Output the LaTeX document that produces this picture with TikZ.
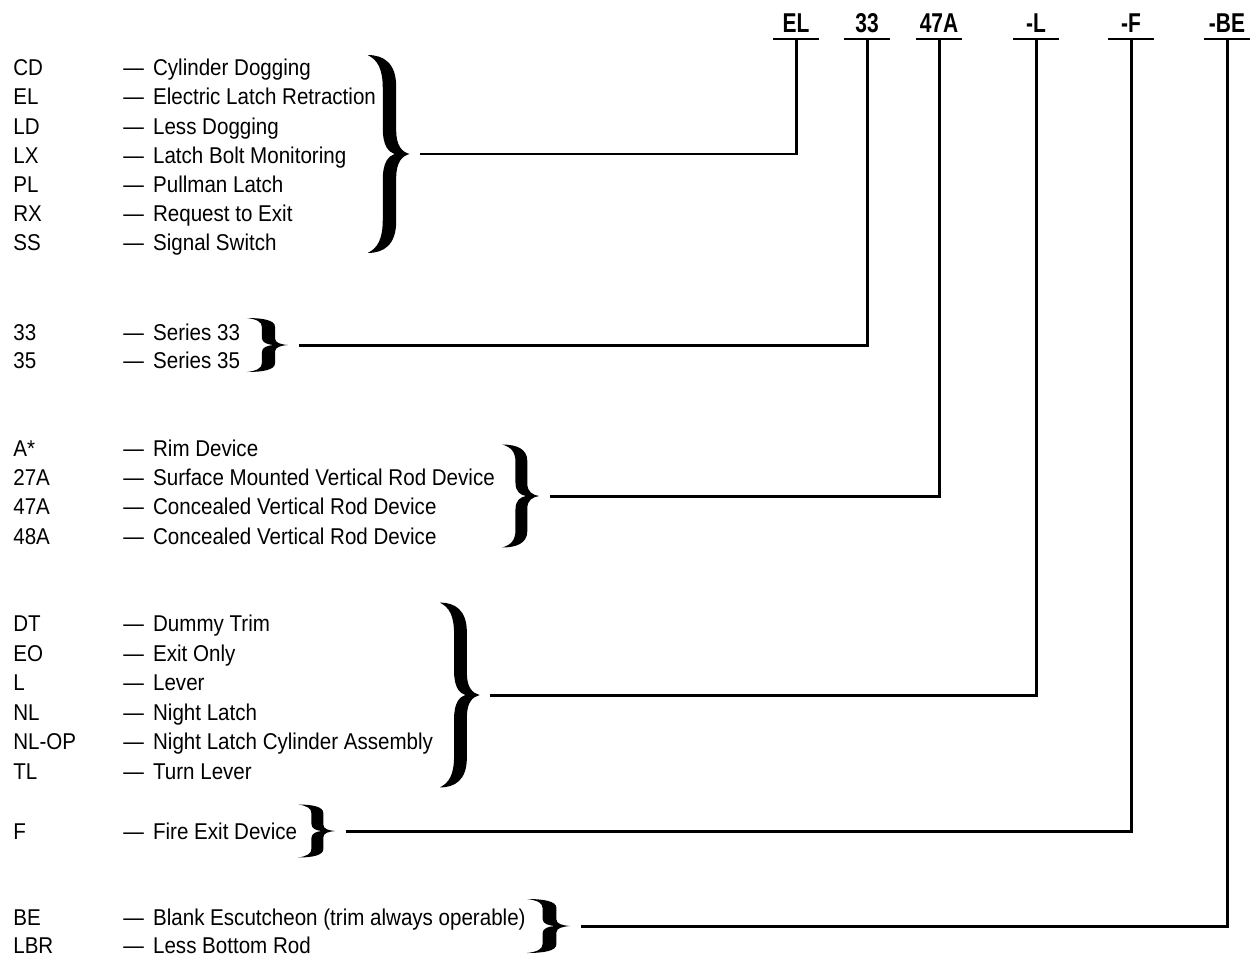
\documentclass[tikz,border=0pt]{standalone}
\usepackage{fontspec}
\usepackage{tikz}
\usetikzlibrary{positioning}
\setmainfont{Liberation Sans}[FakeStretch=0.9]
\newfontfamily\hdfont{Liberation Sans}[FakeStretch=0.77]

% right-facing curly brace in a unit box: x 0..1 (tip at 1), y -1..1
\newcommand\bracepath{(0,1)
  .. controls (0.38,1) and (0.68,0.92) .. (0.68,0.68) -- (0.68,0.24)
  .. controls (0.68,0.08) and (0.82,0.02) .. (1,0)
  .. controls (0.82,-0.02) and (0.68,-0.08) .. (0.68,-0.24) -- (0.68,-0.68)
  .. controls (0.68,-0.92) and (0.38,-1) .. (0,-1)
  .. controls (0.24,-0.95) and (0.36,-0.86) .. (0.36,-0.66) -- (0.36,-0.26)
  .. controls (0.36,-0.08) and (0.5,-0.02) .. (0.64,0)
  .. controls (0.5,0.02) and (0.36,0.08) .. (0.36,0.26) -- (0.36,0.66)
  .. controls (0.36,0.86) and (0.24,0.95) .. (0,1) -- cycle}
% name, x, y, width, height
\newcommand\curly[5]{%
  \node[brace, minimum width=#4, minimum height=#5] (#1) at (#2,#3) {};
  \fill[shift={(#1.west)}, x=#4, y=#5/2] \bracepath;}

\begin{document}
\begin{tikzpicture}[
  x=0.02cm, y=-0.02cm,
  font=\fontsize{13pt}{15pt}\selectfont,
  code/.style={anchor=base west, inner sep=0pt},
  desc/.style={anchor=base west, inner sep=0pt},
  hdr/.style={anchor=south, font=\hdfont\bfseries\fontsize{15.5pt}{17pt}\selectfont, minimum width=0.9cm, inner xsep=0pt, inner ysep=0.12cm, text depth=0pt},
  brace/.style={inner sep=0pt},
  rule/.style={line width=1.7pt},
  lead/.style={rule, shorten <=0.2cm}
]
\useasboundingbox (0,0) rectangle (1250,957);

% model number
\node[hdr] (hEL) at (796,39) {EL};
\node[hdr] (h33) at (867,39) {33};
\node[hdr] (h47A) at (939,39) {47A};
\node[hdr] (hL) at (1036,39) {-L};
\node[hdr] (hF) at (1131,39) {-F};
\node[hdr] (hBE) at (1227,39) {-BE};
\foreach \h in {EL,33,47A,L,F,BE}
  \draw[rule] (h\h.south west) -- (h\h.south east);

% options, one row each
\foreach \y/\code/\desc [count=\i] in {
  67/CD/Cylinder Dogging, 96/EL/Electric Latch Retraction, 126/LD/Less Dogging,
  155/LX/Latch Bolt Monitoring, 184/PL/Pullman Latch, 213/RX/Request to Exit,
  242/SS/Signal Switch,
  332/33/Series 33, 360/35/Series 35,
  448/A*/Rim Device, 477/27A/Surface Mounted Vertical Rod Device,
  506/47A/Concealed Vertical Rod Device, 536/48A/Concealed Vertical Rod Device,
  623/DT/Dummy Trim, 653/EO/Exit Only, 682/L/Lever, 712/NL/Night Latch,
  741/NL-OP/Night Latch Cylinder Assembly, 771/TL/Turn Lever,
  831/F/Fire Exit Device,
  917/BE/Blank Escutcheon (trim always operable), 945/LBR/Less Bottom Rod}
{
  \node[code] (c\i) at (13,\y+8) {\code};
  \node[desc] (d\i) at (123,\y+8) {---\hspace{2pt} \desc};
}

% braces
\curly{bEL}{389}{154}{0.84cm}{3.96cm}
\curly{b33}{268}{345}{0.82cm}{1.08cm}
\curly{b47A}{521}{496}{0.74cm}{2.06cm}
\curly{bL}{460}{695}{0.8cm}{3.7cm}
\curly{bF}{317}{831}{0.74cm}{1.06cm}
\curly{bBE}{549}{926}{0.86cm}{1.08cm}

% leaders
\draw[lead] (bEL.east) -| (hEL.south);
\draw[lead] (b33.east) -| (h33.south);
\draw[lead] (b47A.east) -| (h47A.south);
\draw[lead] (bL.east) -| (hL.south);
\draw[lead] (bF.east) -| (hF.south);
\draw[lead] (bBE.east) -| (hBE.south);
\end{tikzpicture}
\end{document}
